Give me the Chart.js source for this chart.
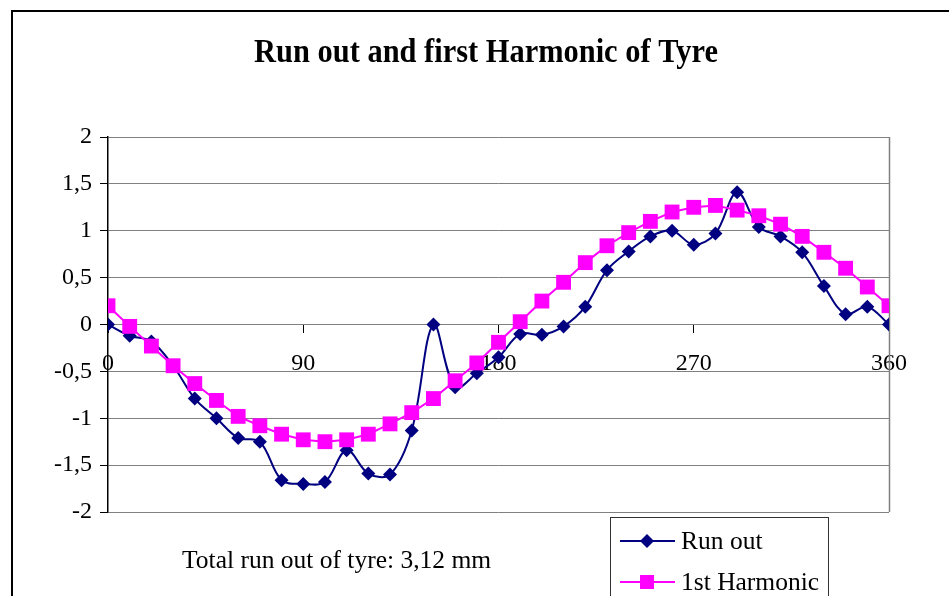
<!DOCTYPE html>
<html>
<head>
<meta charset="utf-8">
<script src="https://cdn.jsdelivr.net/npm/chart.js@4/dist/chart.umd.min.js"></script>
<style>
html,body{margin:0;padding:0;background:#fff;}
#wrap{width:949px;height:596px;position:relative;}
</style>
</head>
<body>
<div id="wrap"><canvas id="c" width="949" height="596"></canvas></div>
<script>
const chartTitle = 'Run out and first Harmonic of Tyre';
const noteText = 'Total run out of tyre: 3,12 mm';
const seriesNames = ['Run out', '1st Harmonic'];
const angles = [0,10,20,30,40,50,60,70,80,90,100,110,120,130,140,150,160,170,180,190,200,210,220,230,240,250,260,270,280,290,300,310,320,330,340,350,360];
const runOut = [0,-0.12,-0.18,-0.44,-0.79,-1.00,-1.21,-1.25,-1.66,-1.70,-1.68,-1.34,-1.59,-1.60,-1.13,0.00,-0.67,-0.52,-0.35,-0.10,-0.11,-0.02,0.19,0.58,0.78,0.94,1.00,0.85,0.97,1.41,1.04,0.94,0.77,0.41,0.11,0.19,0.00];
const harmonic = [0.20,-0.02,-0.23,-0.44,-0.63,-0.81,-0.98,-1.08,-1.17,-1.23,-1.25,-1.23,-1.17,-1.06,-0.94,-0.79,-0.60,-0.41,-0.19,0.03,0.25,0.45,0.66,0.84,0.98,1.10,1.20,1.25,1.27,1.22,1.16,1.07,0.94,0.77,0.60,0.40,0.20];
const xTicks = [0, 90, 180, 270, 360];
const yTicks = [-2,-1.5,-1,-0.5,0,0.5,1,1.5,2];

const NAVY = '#000080', MAGENTA = '#FF00FF';
const SERIF = '"Liberation Serif", "Times New Roman", serif';

function pts(vals){ return angles.map((a,i)=>({x:a, y:vals[i]})); }

function diamond(ctx, x, y, r, color){
  ctx.beginPath();
  ctx.moveTo(x, y-r); ctx.lineTo(x+r, y); ctx.lineTo(x, y+r); ctx.lineTo(x-r, y); ctx.closePath();
  ctx.fillStyle = color; ctx.fill();
}
function square(ctx, x, y, s, color){
  ctx.fillStyle = color; ctx.fillRect(x - s/2, y - s/2, s, s);
}

const decor = {
  id: 'decor',
  beforeDraw(chart){
    const ctx = chart.ctx;
    ctx.save();
    ctx.fillStyle = '#fff';
    ctx.fillRect(0,0,chart.width,chart.height);
    ctx.strokeStyle = '#000'; ctx.lineWidth = 2;
    ctx.beginPath();
    ctx.moveTo(12, 700); ctx.lineTo(12, 11); ctx.lineTo(1000, 11);
    ctx.stroke();
    ctx.restore();
  },
  beforeDatasetsDraw(chart){
    const ctx = chart.ctx, a = chart.chartArea;
    ctx.save();
    ctx.strokeStyle = '#808080'; ctx.lineWidth = 1.5;
    ctx.beginPath();
    ctx.moveTo(Math.round(a.right)+0.5, a.top); ctx.lineTo(Math.round(a.right)+0.5, a.bottom);
    ctx.stroke();
    ctx.restore();
  },
  afterDraw(chart){
    const ctx = chart.ctx;
    ctx.save();
    // title
    ctx.fillStyle = '#000';
    ctx.save();
    ctx.translate(486, 53);
    ctx.scale(0.895, 1);
    ctx.font = 'bold 34px ' + SERIF;
    ctx.textAlign = 'center'; ctx.textBaseline = 'middle';
    ctx.fillText(chartTitle, 0, 0);
    ctx.restore();
    // note
    ctx.font = '25.5px ' + SERIF;
    ctx.textAlign = 'left'; ctx.textBaseline = 'middle';
    ctx.fillText(noteText, 182, 561);
    // legend box
    ctx.strokeStyle = '#333'; ctx.lineWidth = 1;
    ctx.strokeRect(610.5, 517.5, 218, 120);
    const ds = chart.data.datasets;
    const order = [1, 0];
    const ys = [541, 582];
    order.forEach((di, k) => {
      const d = ds[di];
      const y = ys[k];
      ctx.strokeStyle = d.borderColor; ctx.lineWidth = 2;
      ctx.beginPath(); ctx.moveTo(620, y); ctx.lineTo(675, y); ctx.stroke();
      if (d.pointStyle === 'rectRot') diamond(ctx, 647, y, 7, d.borderColor);
      else square(ctx, 647, y, 14, d.borderColor);
      ctx.fillStyle = '#000';
      ctx.font = '25.5px ' + SERIF;
      ctx.textAlign = 'left'; ctx.textBaseline = 'middle';
      ctx.fillText(d.label, 681, y + 1);
    });
    ctx.restore();
  }
};

new Chart(document.getElementById('c'), {
  type: 'line',
  data: {
    datasets: [
      {
        label: seriesNames[1], data: pts(harmonic), order: 0,
        borderColor: MAGENTA, backgroundColor: MAGENTA, borderWidth: 2,
        pointStyle: 'rect', pointRadius: 10.5, pointBorderWidth: 0,
        pointBackgroundColor: MAGENTA, tension: 0
      },
      {
        label: seriesNames[0], data: pts(runOut), order: 1,
        borderColor: NAVY, backgroundColor: NAVY, borderWidth: 2,
        pointStyle: 'rectRot', pointRadius: 7, pointBorderWidth: 0,
        pointBackgroundColor: NAVY, tension: 0.35
      }
    ]
  },
  options: {
    responsive: false,
    animation: false,
    devicePixelRatio: 1,
    layout: { padding: { top: 137, bottom: 84, right: 60, left: 0 } },
    plugins: { legend: { display: false }, title: { display: false }, tooltip: { enabled: false } },
    scales: {
      x: {
        type: 'linear', min: 0, max: 360,
        position: { y: 0 },
        afterBuildTicks: s => { s.ticks = xTicks.map(v => ({ value: v })); },
        grid: { display: true, drawOnChartArea: false, drawTicks: true, tickLength: 8, tickColor: '#000' },
        border: { display: true, color: '#808080', width: 1 },
        ticks: { color: '#000', font: { family: SERIF, size: 24 }, padding: 17, maxRotation: 0, autoSkip: false }
      },
      y: {
        type: 'linear', min: -2, max: 2,
        afterBuildTicks: s => { s.ticks = yTicks.map(v => ({ value: v })); },
        afterFit: s => { s.width = 108; },
        grid: { color: '#808080', lineWidth: 1, tickLength: 8, tickColor: '#000' },
        border: { display: true, color: '#000', width: 1.5 },
        ticks: { color: '#000', font: { family: SERIF, size: 24 }, padding: 8,
                 callback: v => String(v).replace('.', ',') }
      }
    }
  },
  plugins: [decor]
});
</script>
</body>
</html>
